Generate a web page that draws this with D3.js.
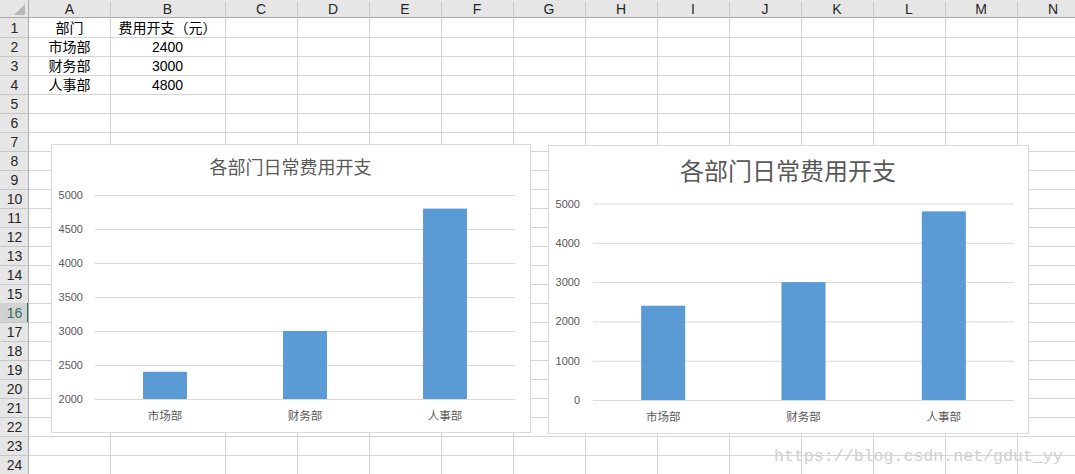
<!DOCTYPE html>
<html lang="zh">
<head>
<meta charset="UTF-8">
<title>各部门日常费用开支</title>
<script src="https://d3js.org/d3.v7.min.js"></script>
<style>
    body { margin: 0; background: #fff; }
    svg { display: block; }
    text { font-family: "Noto Sans CJK SC", "Noto Sans", sans-serif; }
</style>
</head>
<body>
<div id="sheet"></div>
<script>
    // sheet data
    const columnLetters = ['A', 'B', 'C', 'D', 'E', 'F', 'G', 'H', 'I', 'J', 'K', 'L', 'M', 'N'];
    const rowNumbers = d3.range(1, 25);
    const departments = ['市场部', '财务部', '人事部'];
    const costs = [2400, 3000, 4800];
    const headerCells = ['部门', '费用开支（元）'];
    const chartTitle = '各部门日常费用开支';
    const ticksLeft = [2000, 2500, 3000, 3500, 4000, 4500, 5000];
    const ticksRight = [0, 1000, 2000, 3000, 4000, 5000];

    const W = 1075, H = 474;
    const headW = 29, headH = 18, rowH = 19;
    const colEdges = [29, 110, 225, 297, 369, 441, 513, 585, 657, 729, 801, 873, 945, 1017, 1089];
    const latin = '"Liberation Sans", Arial, sans-serif';

    const svg = d3.select('#sheet').append('svg')
        .attr('width', W)
        .attr('height', H);

    svg.append('rect').attr('width', W).attr('height', H).attr('fill', '#fff');

    // cell grid
    const grid = svg.append('g').attr('stroke', '#d4d4d4').attr('stroke-width', 1);
    colEdges.slice(1).forEach(x => {
        grid.append('line').attr('x1', x + 0.5).attr('x2', x + 0.5).attr('y1', headH).attr('y2', H);
    });
    rowNumbers.forEach(r => {
        const y = headH + rowH * r;
        grid.append('line').attr('x1', headW).attr('x2', W).attr('y1', y + 0.5).attr('y2', y + 0.5);
    });

    // column headers
    svg.append('rect').attr('x', 0).attr('y', 0).attr('width', W).attr('height', headH).attr('fill', '#e6e6e6');
    svg.append('line').attr('x1', 0).attr('x2', W).attr('y1', headH - 0.5).attr('y2', headH - 0.5)
        .attr('stroke', '#ababab');
    columnLetters.forEach((c, i) => {
        svg.append('line')
            .attr('x1', colEdges[i + 1] + 0.5).attr('x2', colEdges[i + 1] + 0.5)
            .attr('y1', 2).attr('y2', headH)
            .attr('stroke', '#c6c6c6');
        svg.append('text')
            .attr('x', (colEdges[i] + colEdges[i + 1]) / 2)
            .attr('y', 14)
            .attr('text-anchor', 'middle')
            .attr('font-size', '14px')
            .attr('fill', '#262626')
            .style('font-family', latin)
            .text(c);
    });

    // row headers
    svg.append('rect').attr('x', 0).attr('y', headH).attr('width', headW).attr('height', H - headH).attr('fill', '#e6e6e6');
    rowNumbers.forEach(r => {
        const y0 = headH + rowH * (r - 1);
        if (r === 16) {
            svg.append('rect').attr('x', 0).attr('y', y0).attr('width', headW).attr('height', rowH).attr('fill', '#d2d2d2');
            svg.append('rect').attr('x', headW - 2).attr('y', y0).attr('width', 2).attr('height', rowH).attr('fill', '#217346');
        }
        svg.append('line')
            .attr('x1', 0).attr('x2', headW)
            .attr('y1', y0 + rowH + 0.5).attr('y2', y0 + rowH + 0.5)
            .attr('stroke', '#c6c6c6');
        svg.append('text')
            .attr('x', headW / 2)
            .attr('y', y0 + 15)
            .attr('text-anchor', 'middle')
            .attr('font-size', '14px')
            .attr('fill', r === 16 ? '#2f6f5a' : '#262626')
            .style('font-family', latin)
            .text(r);
    });
    svg.append('line').attr('x1', headW - 0.5).attr('x2', headW - 0.5).attr('y1', 0).attr('y2', H)
        .attr('stroke', '#ababab');
    // corner triangle
    svg.append('path').attr('d', 'M25,4 L25,15 L14,15 Z').attr('fill', '#b9b9b9');

    // cell contents
    const colA = (colEdges[0] + colEdges[1]) / 2;
    const colB = (colEdges[1] + colEdges[2]) / 2;
    headerCells.forEach((t, i) => {
        svg.append('text')
            .attr('x', i === 0 ? colA : colB)
            .attr('y', headH + 15)
            .attr('text-anchor', 'middle')
            .attr('font-size', '14px')
            .attr('fill', '#000')
            .text(t);
    });
    departments.forEach((d, i) => {
        const y = headH + rowH * (i + 1) + 15;
        svg.append('text').attr('x', colA).attr('y', y).attr('text-anchor', 'middle')
            .attr('font-size', '14px').attr('fill', '#000').text(d);
        svg.append('text').attr('x', colB).attr('y', y).attr('text-anchor', 'middle')
            .attr('font-size', '14px').attr('fill', '#000').style('font-family', latin).text(costs[i]);
    });

    // one column chart
    function drawChart(box, yDomain, ticks, titleSize, titleY) {
        const g = svg.append('g');
        g.append('rect')
            .attr('x', box.x + 0.5).attr('y', box.y + 0.5)
            .attr('width', box.w).attr('height', box.h)
            .attr('fill', '#fff').attr('stroke', '#d9d9d9');

        g.append('text')
            .attr('x', box.x + box.w / 2)
            .attr('y', titleY)
            .attr('text-anchor', 'middle')
            .attr('font-size', titleSize)
            .attr('fill', '#595959')
            .text(chartTitle);

        const y = d3.scaleLinear().domain(yDomain).range([box.bottom, box.top]);
        const x = d3.scaleBand().domain(departments).range([box.left, box.right])
            .paddingInner(0.686).paddingOuter(0.343);

        const yAxis = g.append('g')
            .attr('transform', `translate(${box.left},0)`)
            .call(d3.axisLeft(y)
                .tickValues(ticks)
                .tickFormat(d3.format('d'))
                .tickSize(-(box.right - box.left))
                .tickPadding(box.left - box.labelEnd));
        yAxis.select('.domain').remove();
        yAxis.selectAll('.tick line').attr('stroke', '#d9d9d9');
        yAxis.selectAll('.tick text')
            .attr('fill', '#595959')
            .attr('font-size', '11px')
            .style('font-family', latin);

        g.selectAll('rect.bar')
            .data(costs)
            .enter()
            .append('rect')
            .attr('class', 'bar')
            .attr('x', (d, i) => x(departments[i]))
            .attr('y', d => y(d))
            .attr('width', x.bandwidth())
            .attr('height', d => y(yDomain[0]) - y(d))
            .attr('fill', '#5b9bd5');

        g.append('line')
            .attr('x1', box.left).attr('x2', box.right)
            .attr('y1', y(yDomain[0]) + 0.5).attr('y2', y(yDomain[0]) + 0.5)
            .attr('stroke', '#d9d9d9');

        g.selectAll('text.cat')
            .data(departments)
            .enter()
            .append('text')
            .attr('class', 'cat')
            .attr('x', d => x(d) + x.bandwidth() / 2)
            .attr('y', box.bottom + 21)
            .attr('text-anchor', 'middle')
            .attr('font-size', '11.5px')
            .attr('fill', '#595959')
            .text(d => d);
    }

    drawChart({ x: 51, y: 144, w: 479, h: 288, left: 95, right: 515, top: 195, bottom: 399, labelEnd: 83 },
        [2000, 5000], ticksLeft, '18px', 174);
    drawChart({ x: 548, y: 145, w: 480, h: 288, left: 593, right: 1014, top: 203.5, bottom: 400, labelEnd: 580 },
        [0, 5000], ticksRight, '24px', 180);

    // watermark
    svg.append('text')
        .attr('x', 774)
        .attr('y', 461)
        .attr('font-size', '16.6px')
        .attr('fill', '#cfcfcf')
        .style('font-family', '"Liberation Mono", "DejaVu Sans Mono", monospace')
        .text('https://blog.csdn.net/gdut_yy');
</script>
</body>
</html>
